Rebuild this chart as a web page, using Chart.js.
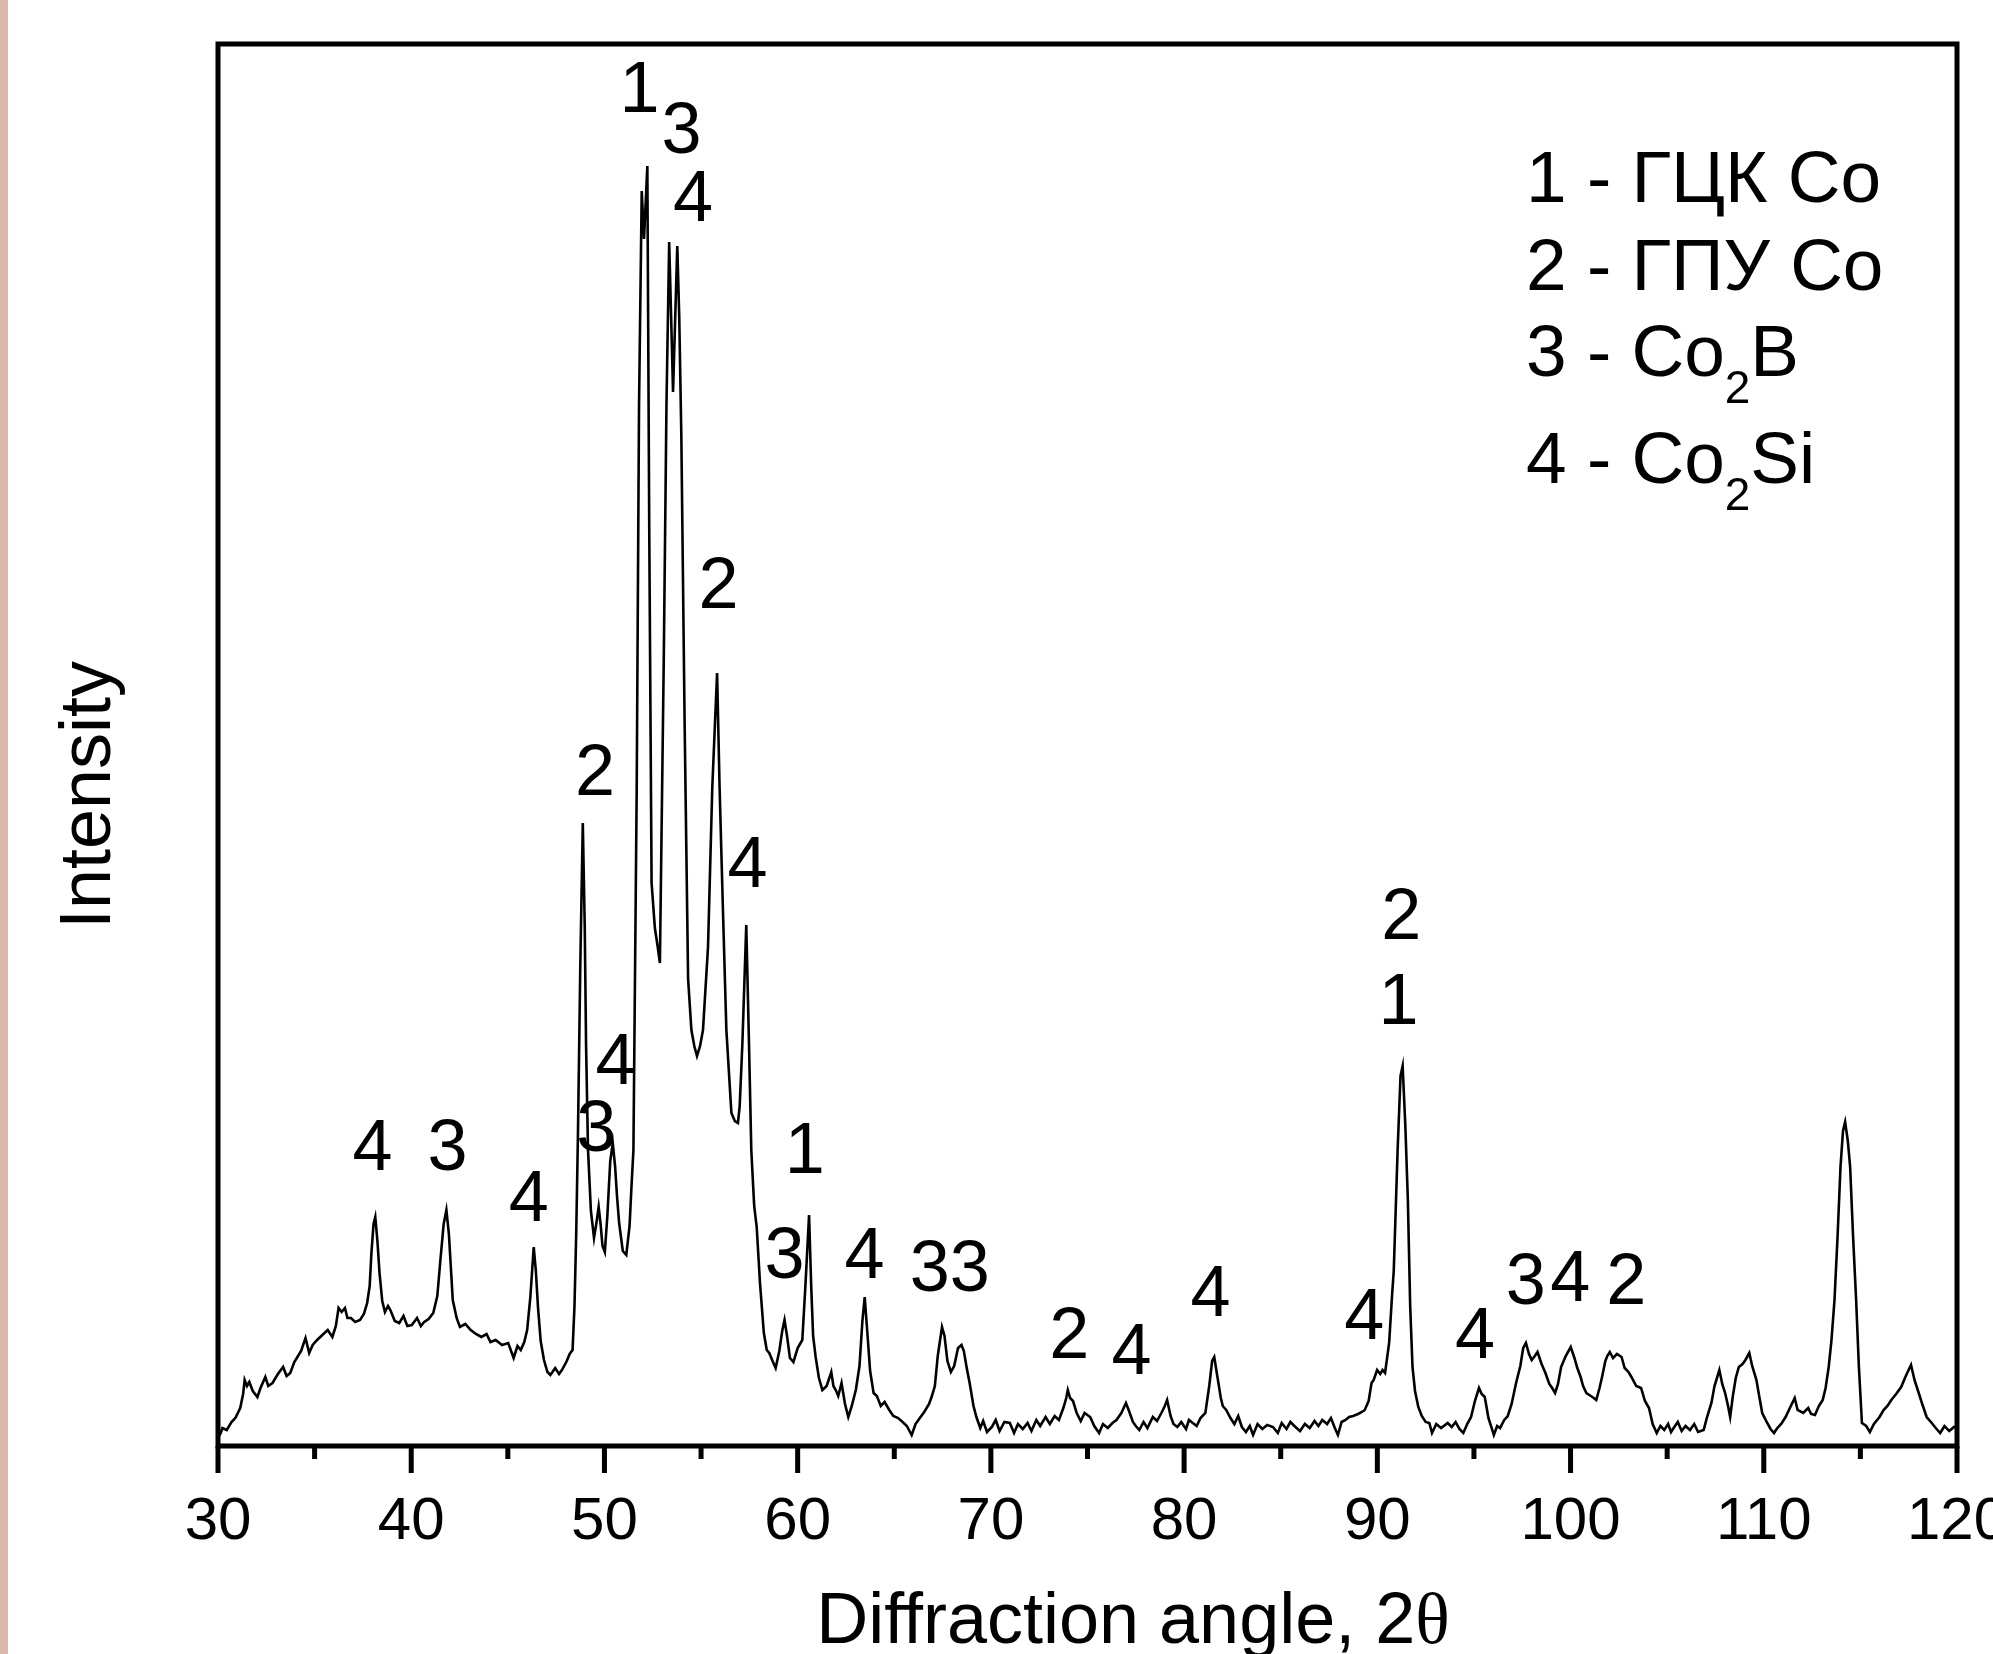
<!DOCTYPE html>
<html>
<head>
<meta charset="utf-8">
<script src="https://cdn.jsdelivr.net/npm/chart.js@4.4.0/dist/chart.umd.min.js"></script>
<style>
  html, body { margin: 0; padding: 0; background: #fff; }
  canvas { display: block; }
</style>
</head>
<body>
<canvas id="xrdChart" width="1993" height="1654"></canvas>
<script>
// 2theta (deg) and intensity (arb. units)
const angles = [
  30.00, 30.14, 30.23, 30.45, 30.70, 30.90, 31.15, 31.30, 31.38, 31.50, 31.62, 31.80, 32.04, 32.20, 32.45, 32.60, 32.82, 33.10, 33.37, 33.55,
  33.74, 33.95, 34.11, 34.30, 34.53, 34.72, 34.90, 35.13, 35.40, 35.68, 35.92, 36.10, 36.24, 36.40, 36.57, 36.70, 36.88, 37.10, 37.35, 37.55,
  37.72, 37.85, 37.94, 38.05, 38.14, 38.25, 38.36, 38.50, 38.64, 38.80, 38.92, 39.15, 39.38, 39.60, 39.80, 40.03, 40.30, 40.50, 40.67, 40.90,
  41.14, 41.35, 41.51, 41.68, 41.82, 41.95, 42.15, 42.35, 42.52, 42.80, 43.08, 43.35, 43.63, 43.90, 44.10, 44.37, 44.70, 45.02, 45.15, 45.30,
  45.50, 45.67, 45.85, 46.00, 46.17, 46.34, 46.45, 46.56, 46.70, 46.87, 47.05, 47.20, 47.45, 47.65, 47.80, 48.05, 48.20, 48.35, 48.45, 48.54,
  48.63, 48.75, 48.88, 48.98, 49.05, 49.15, 49.30, 49.46, 49.60, 49.70, 49.80, 49.90, 50.02, 50.15, 50.30, 50.43, 50.55, 50.65, 50.76, 50.95,
  51.13, 51.30, 51.40, 51.50, 51.67, 51.79, 51.93, 52.05, 52.22, 52.32, 52.44, 52.61, 52.75, 52.87, 53.07, 53.21, 53.35, 53.45, 53.55, 53.65,
  53.77, 53.87, 53.98, 54.15, 54.33, 54.50, 54.65, 54.79, 54.95, 55.10, 55.36, 55.58, 55.83, 55.96, 56.14, 56.31, 56.57, 56.75, 56.91, 57.00,
  57.14, 57.34, 57.48, 57.60, 57.75, 57.88, 58.05, 58.25, 58.40, 58.53, 58.70, 58.86, 59.05, 59.20, 59.32, 59.45, 59.60, 59.78, 60.00, 60.24,
  60.40, 60.59, 60.70, 60.80, 60.93, 61.10, 61.28, 61.50, 61.74, 61.85, 61.97, 62.10, 62.27, 62.45, 62.62, 62.80, 63.01, 63.20, 63.35, 63.47,
  63.60, 63.75, 63.93, 64.10, 64.30, 64.50, 64.74, 64.95, 65.20, 65.43, 65.65, 65.90, 66.10, 66.36, 66.55, 66.80, 66.93, 67.10, 67.25, 67.47,
  67.60, 67.75, 67.93, 68.10, 68.30, 68.48, 68.60, 68.75, 68.90, 69.10, 69.25, 69.45, 69.60, 69.80, 70.05, 70.25, 70.45, 70.70, 70.98, 71.20,
  71.40, 71.65, 71.90, 72.10, 72.35, 72.55, 72.83, 73.05, 73.30, 73.52, 73.75, 73.90, 73.98, 74.10, 74.25, 74.44, 74.65, 74.85, 75.14, 75.35,
  75.60, 75.80, 76.05, 76.29, 76.50, 76.75, 76.99, 77.15, 77.35, 77.50, 77.68, 77.90, 78.10, 78.38, 78.60, 78.85, 79.00, 79.12, 79.30, 79.45,
  79.65, 79.85, 80.10, 80.25, 80.45, 80.65, 80.85, 81.10, 81.30, 81.45, 81.56, 81.70, 81.90, 82.00, 82.18, 82.40, 82.60, 82.80, 82.99, 83.20,
  83.40, 83.57, 83.80, 84.05, 84.30, 84.60, 84.85, 85.05, 85.30, 85.50, 85.76, 86.00, 86.25, 86.50, 86.75, 86.95, 87.15, 87.40, 87.60, 87.80,
  87.96, 88.15, 88.35, 88.54, 88.75, 89.00, 89.20, 89.35, 89.55, 89.70, 89.81, 89.99, 90.15, 90.27, 90.40, 90.61, 90.77, 90.85, 91.05, 91.20,
  91.31, 91.45, 91.58, 91.70, 91.82, 91.95, 92.12, 92.30, 92.50, 92.69, 92.83, 93.05, 93.30, 93.64, 93.85, 94.05, 94.25, 94.45, 94.65, 94.85,
  95.05, 95.26, 95.40, 95.56, 95.75, 96.03, 96.20, 96.35, 96.57, 96.75, 96.95, 97.18, 97.40, 97.55, 97.69, 97.85, 97.99, 98.15, 98.29, 98.50,
  98.70, 98.90, 99.05, 99.20, 99.35, 99.51, 99.75, 100.01, 100.20, 100.35, 100.52, 100.65, 100.82, 101.05, 101.20, 101.33, 101.50, 101.63, 101.80, 101.90,
  102.03, 102.20, 102.40, 102.64, 102.80, 103.00, 103.15, 103.40, 103.65, 103.85, 104.06, 104.25, 104.46, 104.65, 104.85, 105.05, 105.20, 105.37, 105.55, 105.75,
  105.95, 106.18, 106.40, 106.60, 106.89, 107.05, 107.29, 107.45, 107.70, 107.85, 108.00, 108.15, 108.26, 108.40, 108.55, 108.71, 108.90, 109.05, 109.25, 109.40,
  109.62, 109.78, 109.92, 110.15, 110.35, 110.53, 110.70, 110.90, 111.13, 111.35, 111.60, 111.75, 112.04, 112.30, 112.45, 112.65, 112.85, 113.05, 113.20, 113.36,
  113.50, 113.66, 113.82, 113.97, 114.10, 114.21, 114.35, 114.47, 114.62, 114.78, 114.92, 115.08, 115.30, 115.49, 115.70, 115.99, 116.20, 116.40, 116.60, 116.85,
  117.11, 117.35, 117.62, 117.80, 118.02, 118.20, 118.43, 118.65, 118.90, 119.13, 119.35, 119.60, 119.84, 120.00
];
const intensity = [
  8, 13, 18, 16, 24, 28, 38, 52, 66, 60, 64, 55, 49, 58, 69, 60, 63, 72, 79, 70,
  73, 84, 89, 95, 108, 93, 101, 106, 111, 116, 109, 120, 138, 134, 138, 128, 128, 124, 126, 132,
  143, 160, 193, 222, 229, 205, 173, 145, 134, 140, 136, 125, 123, 130, 120, 121, 128, 120, 124, 127,
  133, 150, 186, 222, 236, 212, 146, 128, 119, 122, 116, 112, 109, 112, 104, 106, 101, 103, 96, 88,
  100, 96, 104, 116, 150, 199, 175, 139, 105, 86, 74, 71, 78, 72, 76, 85, 92, 96, 140, 213,
  313, 480, 623, 520, 400, 296, 235, 208, 225, 239, 222, 200, 194, 230, 285, 303, 280, 250, 223, 195,
  191, 220, 260, 296, 658, 1041, 1255, 1207, 1280, 913, 563, 518, 500, 483, 786, 1041, 1204, 1130, 1054, 1120,
  1200, 1130, 1009, 722, 467, 416, 400, 390, 400, 416, 499, 658, 773, 658, 531, 416, 333, 325, 323, 340,
  403, 521, 403, 296, 240, 219, 163, 113, 96, 93, 85, 78, 95, 115, 126, 110, 88, 84, 98, 106,
  160, 231, 160, 110, 89, 68, 56, 60, 74, 60, 56, 50, 63, 42, 29, 40, 56, 80, 125, 149,
  115, 75, 53, 50, 40, 44, 36, 30, 28, 24, 20, 11, 22, 29, 34, 42, 49, 60, 90, 119,
  110, 85, 74, 80, 98, 101, 95, 78, 63, 40, 29, 18, 25, 14, 19, 26, 15, 24, 23, 13,
  22, 17, 23, 15, 26, 20, 29, 22, 30, 26, 38, 48, 56, 48, 45, 33, 25, 33, 29, 20,
  13, 22, 18, 23, 26, 33, 43, 35, 24, 20, 16, 24, 18, 29, 25, 34, 40, 46, 30, 22,
  19, 24, 17, 26, 23, 20, 28, 33, 60, 85, 89, 72, 48, 40, 36, 28, 22, 30, 19, 14,
  20, 11, 22, 17, 21, 19, 13, 23, 17, 24, 19, 15, 22, 18, 25, 20, 26, 22, 28, 18,
  11, 24, 26, 29, 30, 32, 34, 36, 45, 63, 66, 76, 72, 76, 73, 103, 153, 175, 296, 370,
  380, 320, 246, 140, 79, 55, 39, 30, 24, 23, 13, 22, 18, 23, 19, 24, 17, 13, 22, 29,
  45, 58, 52, 49, 28, 11, 20, 18, 26, 30, 42, 63, 80, 98, 103, 92, 86, 90, 94, 82,
  73, 62, 58, 53, 62, 79, 90, 99, 88, 78, 69, 60, 53, 50, 48, 46, 58, 69, 85, 90,
  94, 88, 92, 89, 78, 74, 69, 60, 58, 45, 38, 22, 13, 20, 16, 22, 14, 19, 24, 15,
  20, 16, 22, 14, 16, 28, 43, 60, 76, 62, 53, 40, 29, 50, 68, 79, 82, 86, 93, 80,
  66, 48, 33, 24, 17, 13, 18, 22, 29, 38, 48, 36, 33, 38, 32, 31, 40, 46, 58, 79,
  105, 146, 210, 279, 315, 324, 305, 279, 210, 146, 80, 23, 20, 14, 22, 29, 36, 40, 46, 52,
  59, 70, 81, 66, 53, 42, 29, 24, 18, 13, 20, 15, 19, 18
];

const majorTicks = [30, 40, 50, 60, 70, 80, 90, 100, 110, 120];
const minorTicks = [35, 45, 55, 65, 75, 85, 95, 105, 115];

// phase marks: text, 2theta, intensity level of the text centre
const peakText = ['4', '3', '4', '2', '4', '3', '1', '3', '4', '2', '4', '1', '3', '4', '33', '2', '4', '4', '4', '2', '1', '4', '3', '4', '2'];
const peakAngle = [38.0, 41.88, 46.09, 49.51, 50.57, 49.58, 51.82, 53.99, 54.58, 55.9, 57.41, 60.37, 59.32, 63.46, 67.87, 74.06, 77.28, 81.37, 89.33, 91.24, 91.1, 95.05, 97.68, 99.98, 102.88];
const peakLevel = [302, 302, 251, 677, 388, 321, 1360, 1319, 1251, 864, 585, 299, 194, 194, 181, 114, 98, 156, 133, 533, 448, 114, 168, 171, 168];

// phase key: number/name, subscript, tail
const keyMain = ['1 - ГЦК Co', '2 - ГПУ Co', '3 - Co', '4 - Co'];
const keySub = ['', '', '2', '2'];
const keyTail = ['', '', 'B', 'Si'];

const SANS = '"Liberation Sans", Arial, Helvetica, sans-serif';
const SERIF = '"Liberation Serif", "DejaVu Serif", "Times New Roman", serif';

const decor = {
  id: 'decor',
  beforeDraw(chart) {
    const ctx = chart.ctx;
    ctx.save();
    ctx.fillStyle = '#fff';
    ctx.fillRect(0, 0, chart.width, chart.height);
    ctx.fillStyle = '#d9b8ab';
    ctx.fillRect(0, 0, 8, chart.height);
    ctx.restore();
  },
  afterDraw(chart) {
    const { ctx, chartArea: a, scales: { x, y } } = chart;
    ctx.save();
    ctx.strokeStyle = '#000';
    ctx.fillStyle = '#000';
    ctx.lineWidth = 5;
    ctx.lineCap = 'butt';
    ctx.strokeRect(a.left, a.top, a.right - a.left, a.bottom - a.top);

    // ticks on the bottom axis
    ctx.beginPath();
    majorTicks.forEach(v => {
      const px = x.getPixelForValue(v);
      ctx.moveTo(px, a.bottom);
      ctx.lineTo(px, a.bottom + 27);
    });
    minorTicks.forEach(v => {
      const px = x.getPixelForValue(v);
      ctx.moveTo(px, a.bottom);
      ctx.lineTo(px, a.bottom + 13);
    });
    ctx.stroke();

    ctx.font = '60px ' + SANS;
    ctx.textAlign = 'center';
    ctx.textBaseline = 'alphabetic';
    majorTicks.forEach(v => {
      ctx.fillText(String(v), x.getPixelForValue(v), a.bottom + 93);
    });

    // axis titles
    ctx.font = '72px ' + SANS;
    const t1 = 'Diffraction angle, 2';
    const w1 = ctx.measureText(t1).width;
    ctx.font = '72px ' + SERIF;
    const w2 = ctx.measureText('θ').width;
    const tx = 1133 - (w1 + w2) / 2;
    ctx.textAlign = 'left';
    ctx.font = '72px ' + SANS;
    ctx.fillText(t1, tx, 1643);
    ctx.font = '72px ' + SERIF;
    ctx.fillText('θ', tx + w1, 1643);

    ctx.save();
    ctx.translate(110, 795);
    ctx.rotate(-Math.PI / 2);
    ctx.textAlign = 'center';
    ctx.font = '72px ' + SANS;
    ctx.fillText('Intensity', 0, 0);
    ctx.restore();

    // peak marks
    ctx.font = '72px ' + SANS;
    ctx.textAlign = 'center';
    peakText.forEach((t, i) => {
      ctx.fillText(t, x.getPixelForValue(peakAngle[i]), y.getPixelForValue(peakLevel[i]) + 26);
    });

    // phase key
    const keyBase = [202, 290, 376, 483];
    ctx.textAlign = 'left';
    keyMain.forEach((t, i) => {
      let px = 1526;
      ctx.font = '73px ' + SANS;
      ctx.fillText(t, px, keyBase[i]);
      px += ctx.measureText(t).width;
      if (keySub[i]) {
        ctx.font = '46px ' + SANS;
        ctx.fillText(keySub[i], px, keyBase[i] + 27);
        px += ctx.measureText(keySub[i]).width;
        ctx.font = '73px ' + SANS;
        ctx.fillText(keyTail[i], px, keyBase[i]);
      }
    });
    ctx.restore();
  }
};

new Chart(document.getElementById('xrdChart'), {
  type: 'line',
  data: {
    datasets: [{
      data: angles.map((a, i) => ({ x: a, y: intensity[i] })),
      borderColor: '#000',
      borderWidth: 2.6,
      pointRadius: 0,
      tension: 0,
      fill: false
    }]
  },
  options: {
    responsive: false,
    animation: false,
    devicePixelRatio: 1,
    layout: { padding: { left: 218, right: 36, top: 44, bottom: 208 } },
    plugins: { legend: { display: false }, tooltip: { enabled: false } },
    scales: {
      x: { type: 'linear', min: 30, max: 120, display: false },
      y: { type: 'linear', min: 0, max: 1402, display: false }
    }
  },
  plugins: [decor]
});
</script>
</body>
</html>
